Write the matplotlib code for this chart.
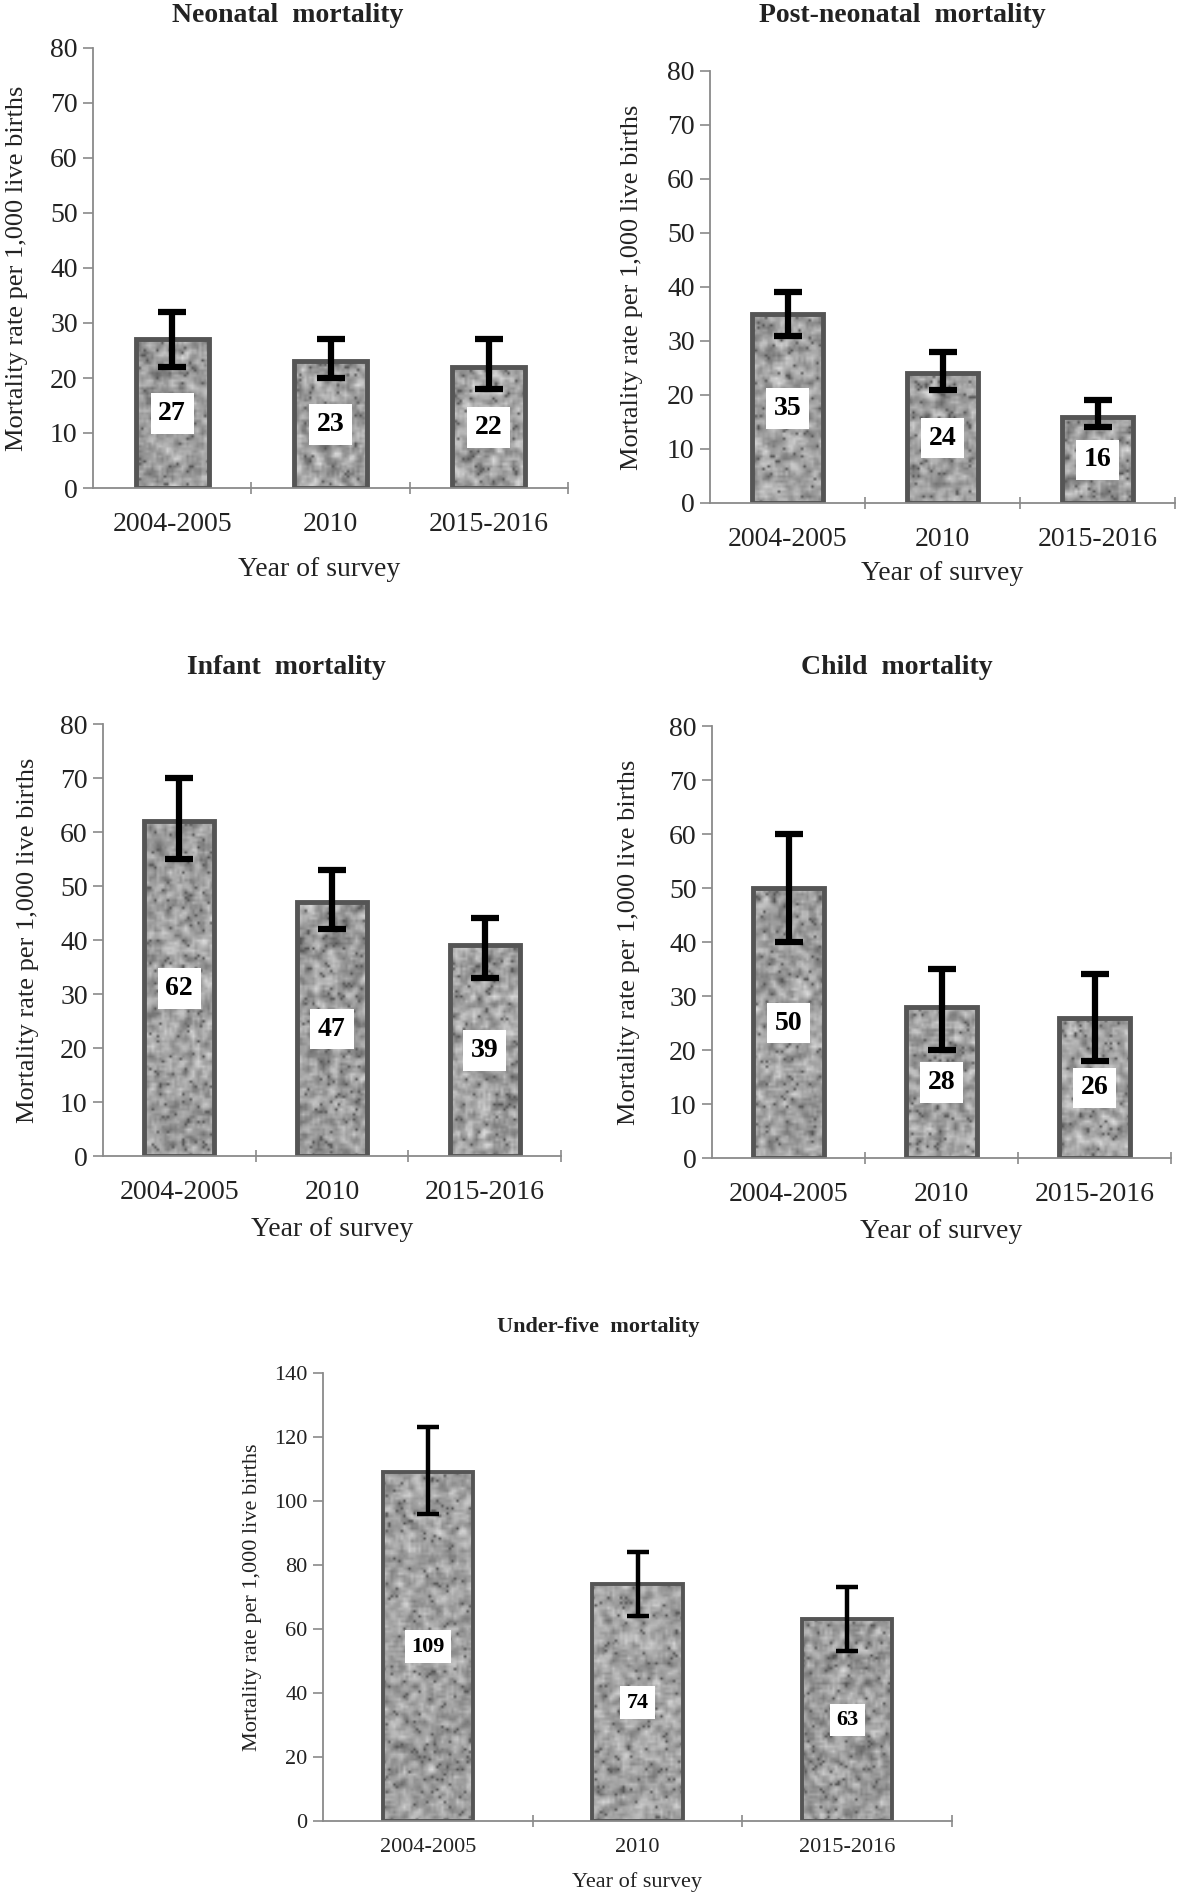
import numpy as np
import matplotlib
matplotlib.use("Agg")
import matplotlib.pyplot as plt

plt.rcParams["font.family"] = ["Liberation Serif", "DejaVu Serif"]

# ==============================
# DATA
# ==============================
years = ["2004-2005", "2010", "2015-2016"]

neonatal = [27, 23, 22]
neonatal_lo = [22, 20, 18]
neonatal_hi = [32, 27, 27]

post_neonatal = [35, 24, 16]
post_neonatal_lo = [31, 21, 14]
post_neonatal_hi = [39, 28, 19]

infant = [62, 47, 39]
infant_lo = [55, 42, 33]
infant_hi = [70, 53, 44]

child = [50, 28, 26]
child_lo = [40, 20, 18]
child_hi = [60, 35, 34]

under_five = [109, 74, 63]
under_five_lo = [96, 64, 53]
under_five_hi = [123, 84, 73]

titles = ["Neonatal  mortality", "Post-neonatal  mortality", "Infant  mortality",
          "Child  mortality", "Under-five  mortality"]
ylabel = "Mortality rate per 1,000 live births"
xlabel = "Year of survey"

W, H = 1181, 1898
fig = plt.figure(figsize=(W / 100, H / 100), dpi=100)


def px_axes(left, right, top, bottom):
    return fig.add_axes([left / W, 1 - bottom / H, (right - left) / W, (bottom - top) / H])


def speckle(rows, cols, seed):
    # granite-like fill texture (deterministic hash noise, smoothed)
    yy, xx = np.mgrid[0:rows, 0:cols].astype(float)
    n = np.sin(xx * 12.9898 + yy * 78.233 + seed * 3.71) * 43758.5453
    n = n - np.floor(n)
    s = np.zeros_like(n)
    for dy in (-1, 0, 1):
        for dx in (-1, 0, 1):
            s += np.roll(np.roll(n, dy, 0), dx, 1)
    b = (s - s.min()) / (s.max() - s.min())
    g = 0.40 + 0.46 * b
    g[n < 0.04] = 0.34
    return g


# panel geometry in pixels: left, right, top, bottom
panels = [
    dict(vals=neonatal, lo=neonatal_lo, hi=neonatal_hi, box=(93, 568, 48, 488), ymax=80, step=10,
         title_xy=(288, 15), ylab_x=-0.160, xlab=(0.475, -0.186), big=True),
    dict(vals=post_neonatal, lo=post_neonatal_lo, hi=post_neonatal_hi, box=(710, 1175, 71, 503), ymax=80, step=10,
         title_xy=(902, 15), ylab_x=-0.168, xlab=(0.5, -0.164), big=True),
    dict(vals=infant, lo=infant_lo, hi=infant_hi, box=(103, 561, 724, 1156), ymax=80, step=10,
         title_xy=(286, 668), ylab_x=-0.164, xlab=(0.5, -0.170), big=True),
    dict(vals=child, lo=child_lo, hi=child_hi, box=(712, 1171, 726, 1158), ymax=80, step=10,
         title_xy=(897, 668), ylab_x=-0.180, xlab=(0.5, -0.170), big=True),
    dict(vals=under_five, lo=under_five_lo, hi=under_five_hi, box=(323, 952, 1373, 1821), ymax=140, step=20,
         title_xy=(598, 1327), ylab_x=-0.112, xlab=(0.5, -0.136), big=False),
]

for k, (p, title) in enumerate(zip(panels, titles)):
    left, right, top, bottom = p["box"]
    ax = px_axes(left, right, top, bottom)
    big = p["big"]
    fs = 20 if big else 16
    width = 0.46 if big else 0.43
    x = np.arange(len(years))
    vals = np.array(p["vals"])
    lo = np.array(p["lo"])
    hi = np.array(p["hi"])

    bars = ax.bar(x, vals, width=width, facecolor="none", edgecolor="#555555",
                  linewidth=3.5 if big else 2.8, zorder=2)

    px_per_unit = (bottom - top) / p["ymax"]
    bar_px = width * (right - left) / 3
    for i, rect in enumerate(bars):
        rows = max(3, int(vals[i] * px_per_unit / 2.5))
        cols = max(3, int(bar_px / 2.5))
        tex = speckle(rows, cols, k * 10 + i)
        im = ax.imshow(tex, extent=[x[i] - width / 2, x[i] + width / 2, 0, vals[i]],
                       cmap="gray", vmin=0, vmax=1, aspect="auto", zorder=1,
                       interpolation="bilinear")
        im.set_clip_path(rect)

    ax.errorbar(x, vals, yerr=[vals - lo, hi - vals], fmt="none", ecolor="black",
                elinewidth=4.5 if big else 3.2, capsize=10 if big else 8,
                capthick=4.5 if big else 3.2, zorder=3)

    for i in range(len(x)):
        ax.text(x[i], vals[i] / 2, str(vals[i]), ha="center", va="center",
                fontsize=fs, fontweight="bold", color="black", zorder=4,
                bbox=dict(boxstyle="square,pad=0.28", facecolor="white", edgecolor="none"))

    ax.set_xlim(-0.5, 2.5)
    ax.set_ylim(0, p["ymax"])
    ax.set_yticks(np.arange(0, p["ymax"] + 1, p["step"]))
    ax.set_xticks(x)
    ax.set_xticklabels(years)
    ax.set_xticks([0.5, 1.5, 2.5], minor=True)

    for s in ["top", "right"]:
        ax.spines[s].set_visible(False)
    for s in ["left", "bottom"]:
        ax.spines[s].set_color("#8a8a8a")
        ax.spines[s].set_linewidth(1.3)

    ax.tick_params(axis="y", direction="out", length=7, width=1.2, color="#8a8a8a",
                   labelsize=fs, labelcolor="#222222", pad=4)
    ax.tick_params(axis="x", which="major", length=0, labelsize=fs,
                   labelcolor="#222222", pad=17 if big else 12)
    ax.tick_params(axis="x", which="minor", direction="inout", length=8, width=1.2,
                   color="#8a8a8a")

    ax.set_ylabel(ylabel, fontsize=19 if big else 16, color="#222222")
    ax.yaxis.set_label_coords(p["ylab_x"], 0.5)
    ax.yaxis.label.set_va("center")
    ax.set_xlabel(xlabel, fontsize=fs, color="#222222")
    ax.xaxis.set_label_coords(*p["xlab"])
    ax.xaxis.label.set_va("center")

    tx, ty = p["title_xy"]
    fig.text(tx / W, 1 - ty / H, title, ha="center", va="center",
             fontsize=20 if big else 16, fontweight="bold", color="#222222")

fig.savefig("out.png", dpi=100)
